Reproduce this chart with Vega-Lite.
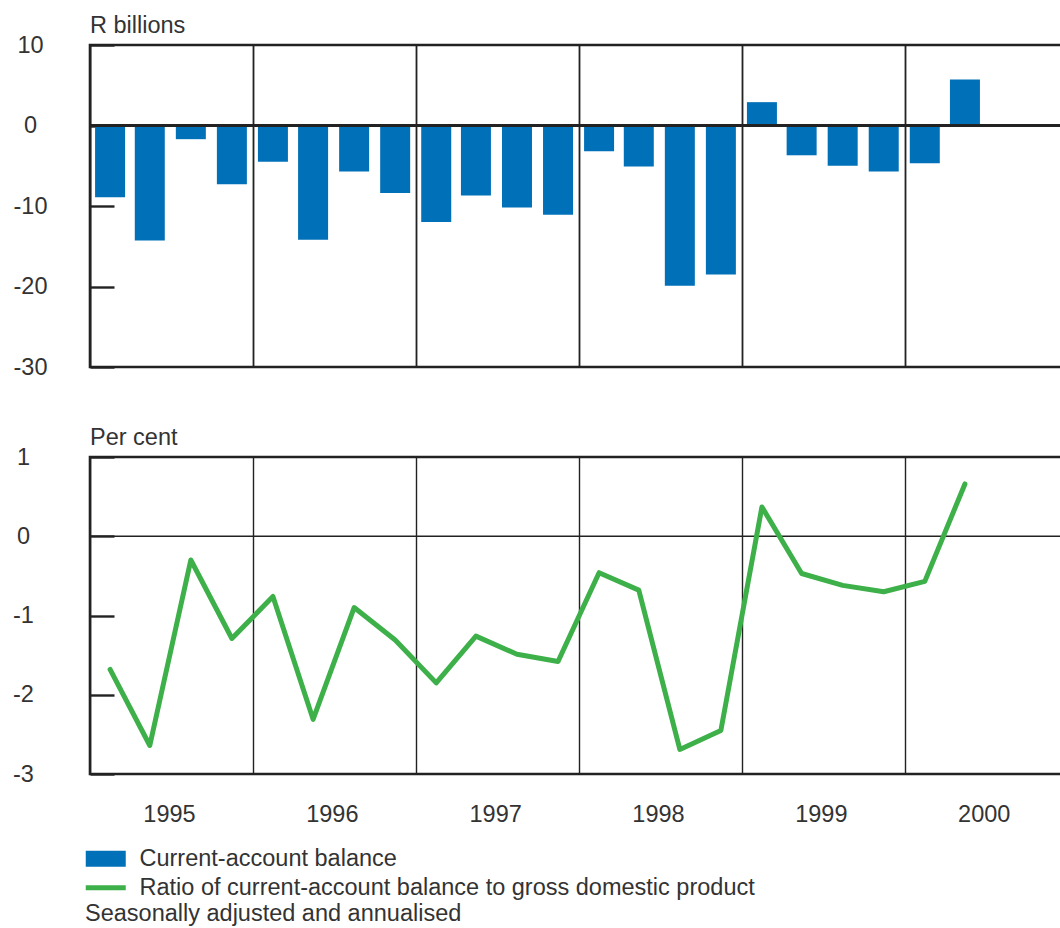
{
  "$schema": "https://vega.github.io/schema/vega-lite/v6.json",
  "padding": {"left": 11, "top": 12, "right": 0, "bottom": 0},
  "background": "white",
  "config": {
    "font": "Liberation Sans",
    "view": {"stroke": "#222", "strokeWidth": 2.6},
    "title": {"fontSize": 23.5, "fontWeight": "normal", "color": "#333", "font": "Liberation Sans"},
    "axis": {"labelFontSize": 23.5, "labelColor": "#333", "labelFont": "Liberation Sans"}
  },
  "datasets": {
    "q": [
      {"date": "1995-02-15", "balance": -8.9, "ratio": -1.68},
      {"date": "1995-05-15", "balance": -14.3, "ratio": -2.64},
      {"date": "1995-08-15", "balance": -1.7, "ratio": -0.30},
      {"date": "1995-11-15", "balance": -7.3, "ratio": -1.29},
      {"date": "1996-02-15", "balance": -4.5, "ratio": -0.76},
      {"date": "1996-05-15", "balance": -14.2, "ratio": -2.31},
      {"date": "1996-08-15", "balance": -5.7, "ratio": -0.90},
      {"date": "1996-11-15", "balance": -8.4, "ratio": -1.31},
      {"date": "1997-02-15", "balance": -12.0, "ratio": -1.85},
      {"date": "1997-05-15", "balance": -8.7, "ratio": -1.26},
      {"date": "1997-08-15", "balance": -10.2, "ratio": -1.49},
      {"date": "1997-11-15", "balance": -11.1, "ratio": -1.58},
      {"date": "1998-02-15", "balance": -3.2, "ratio": -0.46},
      {"date": "1998-05-15", "balance": -5.1, "ratio": -0.68},
      {"date": "1998-08-15", "balance": -19.9, "ratio": -2.69},
      {"date": "1998-11-15", "balance": -18.5, "ratio": -2.45},
      {"date": "1999-02-15", "balance": 2.9, "ratio": 0.37},
      {"date": "1999-05-15", "balance": -3.7, "ratio": -0.47},
      {"date": "1999-08-15", "balance": -5.0, "ratio": -0.62},
      {"date": "1999-11-15", "balance": -5.7, "ratio": -0.70},
      {"date": "2000-02-15", "balance": -4.7, "ratio": -0.57},
      {"date": "2000-05-15", "balance": 5.7, "ratio": 0.66}
    ]
  },
  "spacing": 44,
  "vconcat": [
    {
      "width": 978,
      "height": 322,
      "title": {"text": "R billions", "anchor": "start", "frame": "group", "offset": -4},
      "layer": [
        {
          "data": {"name": "q"},
          "mark": {"type": "bar", "width": 30},
          "encoding": {
            "x": {
              "field": "date", "type": "temporal",
              "scale": {"type": "utc", "padding": 0, "domain": [{"year": 1995, "month": 1, "date": 1, "utc": true}, {"year": 2001, "month": 1, "date": 1, "utc": true}]},
              "axis": {
                "values": [{"year": 1995, "utc": true}, {"year": 1996, "utc": true}, {"year": 1997, "utc": true}, {"year": 1998, "utc": true}, {"year": 1999, "utc": true}, {"year": 2000, "utc": true}],
                "grid": true, "gridColor": "#222", "gridWidth": 1.8, "ticks": false, "domain": false, "labels": false, "title": null
              }
            },
            "y": {
              "field": "balance", "type": "quantitative",
              "scale": {"domain": [-30, 10], "nice": false, "zero": false},
              "axis": {
                "values": [-30, -20, -10, 0, 10], "tickSize": -24, "tickWidth": 2.4, "tickColor": "#222",
                "domain": false, "grid": false, "title": null, "labelAlign": "center", "labelBaseline": "middle", "labelPadding": 84,
                "labelExpr": "datum.value + ''"
              }
            },
            "color": {
              "datum": "Current-account balance",
              "scale": {"domain": ["Current-account balance", "Ratio of current-account balance to gross domestic product"], "range": ["#0070b8", "#3db049"]},
              "legend": {
                "orient": "none", "legendX": -5, "legendY": 802,
                "title": "Seasonally adjusted and annualised", "titleOrient": "bottom", "titleAnchor": "start", "titleAlign": "left",
                "titleFontSize": 23.5, "titleFontWeight": "normal", "titleColor": "#333", "titleFont": "Liberation Sans", "titlePadding": 3, "titleLimit": 900,
                "labelFontSize": 23.5, "labelColor": "#333", "labelFont": "Liberation Sans", "labelOffset": 31, "labelLimit": 900,
                "symbolSize": 400, "rowPadding": 4,
                "encode": {
                  "symbols": {
                    "update": {
                      "shape": {"signal": "datum.value === 'Current-account balance' ? 'M-1.1,-0.8H2.9V0.8H-1.1Z' : 'M-1.1,-0.25H2.9V0.25H-1.1Z'"},
                      "fill": {"scale": "color", "field": "value"},
                      "strokeWidth": {"value": 0},
                      "opacity": {"value": 1}
                    }
                  }
                }
              }
            }
          }
        },
        {
          "data": {"values": [{}]},
          "mark": {"type": "rule", "color": "#222", "strokeWidth": 2.8},
          "encoding": {"y": {"datum": 0}}
        }
      ]
    },
    {
      "width": 978,
      "height": 317,
      "title": {"text": "Per cent", "anchor": "start", "frame": "group", "offset": -4},
      "layer": [
        {
          "data": {"values": [{}]},
          "mark": {"type": "rule", "color": "#222", "strokeWidth": 1.4},
          "encoding": {"y": {"datum": 0, "type": "quantitative", "scale": {"domain": [-3, 1], "nice": false, "zero": false}}}
        },
        {
          "data": {"name": "q"},
          "mark": {"type": "line", "strokeWidth": 5, "strokeCap": "round", "strokeJoin": "round"},
          "encoding": {
            "x": {
              "field": "date", "type": "temporal",
              "scale": {"type": "utc", "padding": 0, "domain": [{"year": 1995, "month": 1, "date": 1, "utc": true}, {"year": 2001, "month": 1, "date": 1, "utc": true}]},
              "axis": {
                "values": [{"year": 1995, "utc": true}, {"year": 1996, "utc": true}, {"year": 1997, "utc": true}, {"year": 1998, "utc": true}, {"year": 1999, "utc": true}, {"year": 2000, "utc": true}],
                "grid": true, "gridColor": "#222", "gridWidth": 1.4, "ticks": false, "domain": false, "title": null,
                "labelExpr": "utcFormat(datum.value, '%Y')", "labelOffset": 79, "labelPadding": 28, "labelBaseline": "top",
                "labelFlush": false, "labelOverlap": false, "labelBound": false
              }
            },
            "y": {
              "field": "ratio", "type": "quantitative",
              "scale": {"domain": [-3, 1], "nice": false, "zero": false},
              "axis": {
                "values": [-3, -2, -1, 0, 1], "tickSize": -24, "tickWidth": 2.4, "tickColor": "#222",
                "domain": false, "grid": false, "title": null, "labelAlign": "center", "labelBaseline": "middle", "labelPadding": 91,
                "labelExpr": "datum.value + ''"
              }
            },
            "color": {
              "datum": "Ratio of current-account balance to gross domestic product",
              "scale": {"domain": ["Current-account balance", "Ratio of current-account balance to gross domestic product"], "range": ["#0070b8", "#3db049"]}
            }
          }
        }
      ]
    }
  ]
}
